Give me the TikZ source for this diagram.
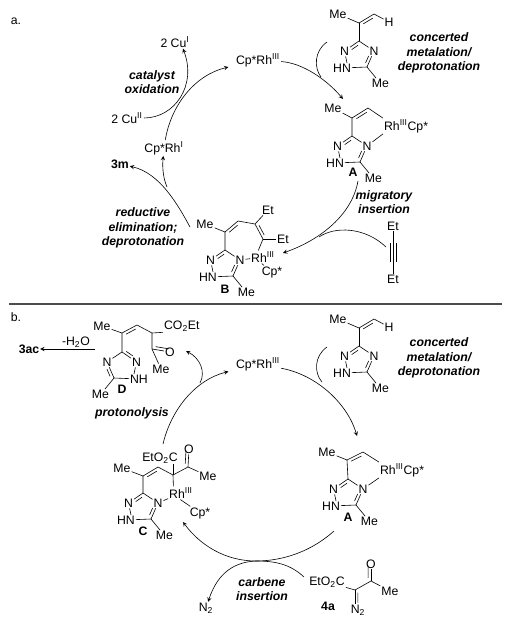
\documentclass[tikz,border=0pt]{standalone}
\usepackage{fontspec}
\setmainfont{Liberation Sans}
\usetikzlibrary{calc}

% double bond: #1 = end of inner line, #4 = side
\newcommand{\dbond}[4][.82]{
  \draw (#2) -- (#3);
  \draw ($(#2)!.18!(#3)!2.2pt!#4:(#3)$) -- ($(#2)!#1!(#3)!2.2pt!#4:(#3)$);
}
% methyl triazole ring hanging from its carbon
\newcommand{\triazole}[6]{
  \begin{scope}[shift={(#2,#3)},xscale=#4]
    \coordinate (#1a) at (0,0);
    \node[atom] (#1l) at (-14.5,10) {N};
    \node[atom] (#1r) at (15,10) {N};
    \coordinate (#1c) at (8,26);
    \node[atom] (#1h) at (-17,27) {#5};
    \coordinate (#1n) at (-12,22);
    \node[atom] (#1m) at (21.5,42.5) {Me};
    \dbond[.62]{#1a}{#1l}{#6}
    \draw (#1a) -- (#1r);
    \dbond[.62]{#1c}{#1r}{#6}
    \draw (#1l) -- (#1n);
    \draw (#1c) -- (#1h);
    \draw (#1c) -- (#1m);
  \end{scope}
}
% vinyl triazole with its step text
\newcommand{\substrate}[2]{
  \begin{scope}[yshift=#2*-.75pt]
    \node[atom] (#1me) at (338,14) {Me};
    \node[atom] (#1h) at (389,22) {H};
    \coordinate (#1v) at (359,23);
    \coordinate (#1w) at (374,14);
    \draw (#1me) -- (#1v);
    \dbond{#1v}{#1w}{-90}
    \draw (#1w) -- (#1h);
    \triazole{#1t}{359}{41}{1}{HN}{90}
    \draw (#1v) -- (#1ta);
    \node[cond] (#1cmd) at (439,53) {concerted\\metalation/\\deprotonation};
  \end{scope}
}

\begin{document}
\begin{tikzpicture}[>=stealth, x=.75pt, y=-.75pt, line width=.45pt,
    every node/.style={font=\fontsize{9.2}{10.9}\selectfont},
    atom/.style={inner sep=.6pt},
    cond/.style={font=\fontsize{9.2}{10.9}\selectfont\bfseries\itshape, align=center, inner sep=0pt},
    tag/.style={font=\fontsize{9.2}{10.9}\selectfont\bfseries, inner sep=.5pt}]
  \useasboundingbox (0,0) rectangle (511,625);

  %% part a
  \node[atom] (parta) at (16,21) {a.};
  \node[atom] (cu1) at (175,42) {2 Cu\textsuperscript{I}};
  \node[atom] (cu2) at (127,118) {2 Cu\textsuperscript{II}};
  \node[atom] (rh1) at (164,148) {Cp*Rh\textsuperscript{I}};
  \node[atom] (rh3a) at (258,60) {Cp*Rh\textsuperscript{III}};
  \node[tag] (prodm) at (120,164) {3m};
  \node[cond] (oxid) at (152,82) {catalyst\\oxidation};
  \node[cond] (migr) at (384,202) {migratory\\insertion};
  \node[cond] (redel) at (143,228) {reductive\\elimination;\\deprotonation};
  \substrate{sa}{0}

  % intermediate A
  \node[atom] (mea) at (333,108) {Me};
  \coordinate (c1a) at (352,118);
  \coordinate (c2a) at (368,108);
  \node[atom, anchor=west] (rha) at (383,126) {Rh\textsuperscript{III}Cp*};
  \triazole{ta}{352}{136}{1}{HN}{90}
  \draw (mea) -- (c1a) -- (taa);
  \dbond{c1a}{c2a}{-90}
  \draw (c2a) -- (rha.north west);
  \draw (rha.south west) -- (tar);
  \node[tag] (laba) at (353,172) {A};

  % intermediate B
  \node[atom] (meb) at (205,224) {Me};
  \coordinate (c1b) at (225,232);
  \coordinate (c2b) at (238,221);
  \coordinate (c3b) at (255,224);
  \coordinate (c4b) at (263,239);
  \node[atom] (et1b) at (268,210) {Et};
  \node[atom] (et2b) at (283,239) {Et};
  \node[atom] (rhb) at (263,257) {Rh\textsuperscript{III}};
  \node[atom] (cpb) at (272,272) {Cp*};
  \triazole{tb}{225}{250}{1}{HN}{90}
  \draw (meb) -- (c1b) -- (tba);
  \dbond{c1b}{c2b}{-90}
  \draw (c2b) -- (c3b) -- (et1b);
  \dbond{c3b}{c4b}{90}
  \draw (c4b) -- (et2b);
  \draw (c4b) -- (rhb.125);
  \draw (tbr) -- (rhb);
  \draw (rhb.-100) -- (cpb);
  \node[tag] (labb) at (225,289) {B};

  % alkyne
  \node[atom] (eta) at (393,226) {Et};
  \node[atom] (etb) at (393,279) {Et};
  \draw (eta) -- (etb);
  \coordinate (y1) at (390,243);
  \coordinate (y2) at (390,262);
  \coordinate (y3) at (396,243);
  \coordinate (y4) at (396,262);
  \draw (y1) -- (y2);
  \draw (y3) -- (y4);

  % cycle a
  \coordinate (ina) at (327,42);
  \coordinate (mina) at (321,77);
  \coordinate (toa) at (343,99);
  \coordinate (froma) at (358,181);
  \coordinate (tob) at (283,253);
  \coordinate (aly) at (386,247);
  \coordinate (miny) at (319,237);
  \coordinate (fromb) at (190,227);
  \coordinate (minb) at (167,187);
  \draw[->, shorten >=5pt] (rh1) .. controls (171,105) and (195,75) .. (rh3a);
  \draw[->] (cu2) .. controls (175,118) and (197,85) .. (cu1.-40);
  \draw[->] (rh3a) .. controls (303,63) and (327,80) .. (toa);
  \draw (ina) .. controls (314,51) and (314,68) .. (mina);
  \draw[->] (froma) .. controls (352,215) and (320,240) .. (tob);
  \draw (aly) .. controls (365,227) and (335,226) .. (miny);
  \draw[->] (fromb) .. controls (178,205) and (160,173) .. (prodm);
  \draw[->] (minb) .. controls (164,180) and (162,170) .. (rh1);

  \coordinate (cutl) at (9,304);
  \coordinate (cutr) at (502,304);
  \draw[line width=.8pt, black!70] (cutl) -- (cutr);

  %% part b
  \node[atom] (partb) at (16,317) {b.};
  \node[atom] (rh3b) at (258,364) {Cp*Rh\textsuperscript{III}};
  \node[tag] (prodac) at (29,349) {3ac};
  \node[atom] (water) at (76,342) {-H\textsubscript{2}O};
  \node[cond] (proto) at (132,413) {protonolysis};
  \node[cond] (carb) at (262,589) {carbene\\insertion};
  \node[atom] (ntwo) at (206,608) {N\textsubscript{2}};
  \substrate{sb}{305}

  % intermediate D
  \node[atom] (med) at (102,326) {Me};
  \coordinate (c1d) at (122,333);
  \coordinate (c2d) at (137,325);
  \coordinate (c3d) at (152,333);
  \coordinate (c4d) at (152,349);
  \node[atom, anchor=west] (estd) at (163,326) {CO\textsubscript{2}Et};
  \node[atom] (od) at (170,352) {O};
  \node[atom] (me2d) at (161,369) {Me};
  \triazole{td}{122}{352}{-1}{NH}{-90}
  \draw (med) -- (c1d) -- (tda);
  \dbond{c1d}{c2d}{-90}
  \draw (c2d) -- (c3d) -- (estd.south west);
  \draw (c3d) -- (c4d) -- (me2d);
  \dbond[.9]{c4d}{od}{90}
  \node[tag] (labd) at (122,389) {D};

  % intermediate A
  \node[atom] (meab) at (327,452) {Me};
  \coordinate (c1e) at (347,460);
  \coordinate (c2e) at (363,452);
  \node[atom, anchor=west] (rhe) at (379,470) {Rh\textsuperscript{III}Cp*};
  \triazole{te}{348}{479}{1}{HN}{90}
  \draw (meab) -- (c1e) -- (tea);
  \dbond{c1e}{c2e}{-90}
  \draw (c2e) -- (rhe.north west);
  \draw (rhe.south west) -- (ter);
  \node[tag] (labe) at (348,517) {A};

  % intermediate C
  \node[atom] (mec) at (122,468) {Me};
  \coordinate (c1c) at (143,476);
  \coordinate (c2c) at (158,467);
  \coordinate (c3c) at (173,475);
  \coordinate (c4c) at (188,467);
  \node[atom] (estc) at (160,458) {EtO\textsubscript{2}C};
  \node[atom] (oc) at (189,449) {O};
  \node[atom] (me2c) at (208,476) {Me};
  \node[atom] (rhc) at (181,493) {Rh\textsuperscript{III}};
  \node[atom] (cpc) at (200,513) {Cp*};
  \triazole{tc}{143}{493}{1}{HN}{90}
  \draw (mec) -- (c1c) -- (tca);
  \dbond{c1c}{c2c}{-90}
  \draw (c2c) -- (c3c) -- (c4c) -- (me2c);
  \draw (c3c) -- (estc.south -| c3c);
  \dbond[.9]{c4c}{oc}{90}
  \draw (c3c) -- (rhc.139);
  \draw (tcr) -- (rhc);
  \draw (rhc.-95) -- (cpc);
  \node[tag] (labc) at (143,531) {C};

  % diazo compound
  \node[tag] (lab4a) at (328,606) {4a};
  \node[atom] (estg) at (327,582) {EtO\textsubscript{2}C};
  \coordinate (c1g) at (355,590);
  \coordinate (c2g) at (371,581);
  \node[atom] (og) at (371,564) {O};
  \node[atom] (meg) at (390,591) {Me};
  \node[atom] (ntwog) at (358,610) {N\textsubscript{2}};
  \coordinate (ng) at (355,604);
  \draw (estg) -- (c1g) -- (c2g) -- (meg);
  \dbond[.9]{c2g}{og}{90}
  \dbond[.9]{c1g}{ng}{90}

  % cycle b
  \coordinate (fromc) at (163,444);
  \coordinate (minc) at (200,383);
  \coordinate (tod) at (186,351);
  \coordinate (tof) at (357,436);
  \coordinate (inb) at (327,347);
  \coordinate (minb2) at (322,382);
  \coordinate (frome) at (334,531);
  \coordinate (mine) at (256,561);
  \coordinate (toc) at (183,522);
  \coordinate (ing) at (304,577);
  \coordinate (tod2) at (95,349);
  \draw[->, shorten >=5pt] (fromc) .. controls (171,410) and (195,380) .. (rh3b);
  \draw[->] (minc) .. controls (206,372) and (200,358) .. (tod);
  \draw[->] (rh3b) .. controls (318,375) and (348,405) .. (tof);
  \draw (inb) .. controls (314,356) and (314,373) .. (minb2);
  \draw[->] (frome) .. controls (306,556) and (275,561) .. (mine)
    .. controls (225,561) and (200,545) .. (toc);
  \draw (ing) .. controls (290,564) and (275,561) .. (mine);
  \draw[->] (mine) .. controls (235,562) and (218,572) .. (ntwo);
  \draw[->] (tod2) -- (prodac);
\end{tikzpicture}
\end{document}
